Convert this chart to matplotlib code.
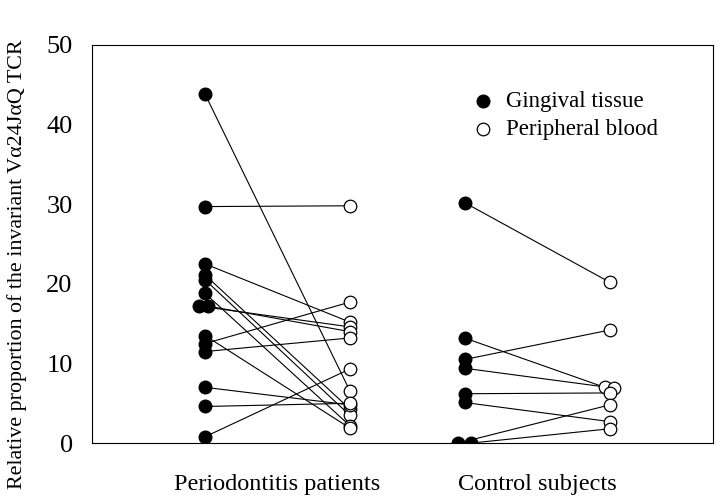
import matplotlib.pyplot as plt

plt.rcParams['font.family'] = ['Liberation Serif', 'DejaVu Serif']

groups = ["Periodontitis patients", "Control subjects"]

# paired values (gingival tissue -> peripheral blood)
patients_gingival = [43.8, 29.7, 22.5, 21.1, 20.5, 18.8, 17.2, 17.2, 13.5, 12.5, 11.5, 7.0, 4.6, 0.8]
patients_blood = [6.6, 29.8, 15.2, 4.3, 3.5, 2.2, 14.6, 14.0, 1.9, 17.7, 13.2, 4.8, 5.0, 9.3]
controls_gingival = [30.2, 13.2, 10.5, 9.4, 6.2, 5.1, 0.0, 0.0]
controls_blood = [20.2, 7.0, 14.2, 6.9, 6.3, 2.7, 4.8, 1.8]

# column positions on the x axis (gingival, blood) per group
xpos = [(1.82, 4.15), (6.0, 8.34)]
# small sideways shift where markers overlap
patients_jit = [0, 0, 0, 0, 0, 0, -0.1, 0.05, 0, 0, 0, 0, 0, 0]
controls_jit = [0, 0, 0, 0, 0, 0, -0.1, 0.1]
controls_bjit = [0, -0.08, 0, 0.07, 0, 0, 0, 0]

fig = plt.figure(figsize=(7.2, 4.99), dpi=100)
ax = fig.add_axes([0.128, 0.112, 0.862, 0.798])

data = [(patients_gingival, patients_blood, patients_jit, [0] * len(patients_blood)),
        (controls_gingival, controls_blood, controls_jit, controls_bjit)]

for (g, b, jg, jb), (xg, xb) in zip(data, xpos):
    for i in range(len(g)):
        ax.plot([xg + jg[i], xb + jb[i]], [g[i], b[i]], color="black", lw=0.8, zorder=1)
    ax.scatter([xg + j for j in jg], g, s=82, color="black", zorder=3)
    ax.scatter([xb + j for j in jb], b, s=82, facecolor="white", edgecolor="black",
               linewidth=0.9, zorder=3)

ax.scatter([], [], s=82, color="black", label="Gingival tissue")
ax.scatter([], [], s=82, facecolor="white", edgecolor="black", linewidth=0.9,
           label="Peripheral blood")
ax.legend(loc="upper left", bbox_to_anchor=(0.593, 0.907), frameon=False, fontsize=16.5,
          handlelength=1.2, handletextpad=0.4, labelspacing=0.3, borderaxespad=0)

ax.set_xlim(0, 10)
ax.set_ylim(0, 50)
ax.set_yticks([0, 10, 20, 30, 40, 50])
ax.set_xticks([(xg + xb) / 2 for xg, xb in xpos])
ax.set_xticklabels(groups)
ax.tick_params(axis="y", length=0, pad=14, labelsize=19)
ax.tick_params(axis="x", length=0, pad=22, labelsize=17.5)
for sp in ax.spines.values():
    sp.set_linewidth(0.8)

ax.set_ylabel("Relative proportion of the invariant V\u03b124J\u03b1Q TCR", fontsize=15.8,
              labelpad=8)
ax.yaxis.set_label_coords(-0.105, 0.45)

fig.savefig("out.png", dpi=100)
